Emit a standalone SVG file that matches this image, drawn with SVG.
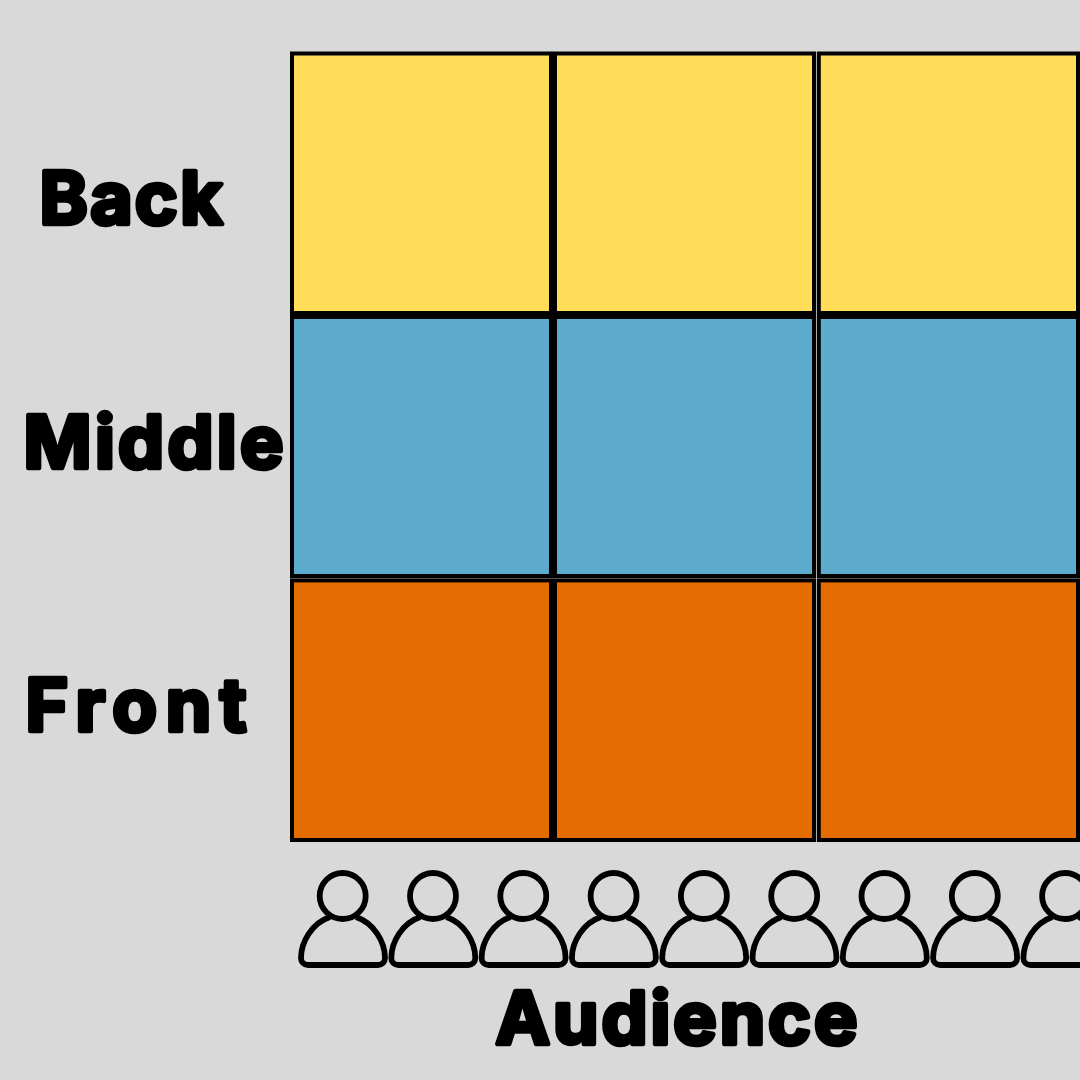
<svg xmlns="http://www.w3.org/2000/svg" width="1080" height="1080" viewBox="0 0 1080 1080">
<style>
.c{stroke:#000;stroke-width:4}
.y{fill:#ffdd59}.b{fill:#5dabcc}.o{fill:#e56c00}
.t{font-family:"Inter","Liberation Sans",sans-serif;font-weight:700;font-size:73px;fill:#000;stroke:#000;stroke-width:4.5;stroke-linejoin:round;stroke-linecap:round}
.p{fill:none;stroke:#000;stroke-width:5.8;stroke-linejoin:round}
</style>
<defs>
<g id="person"><circle cx="342.7" cy="896" r="23"/><path d="M330 917C312 923 301 942 301 958C301 962 304 965 308 965H378C382 965 385 962 385 958C385 942 374 923 356 917"/></g>
</defs>
<rect width="1080" height="1080" fill="#d9d9d9"/>
<g id="seat-back">
<rect class="c y" x="292" y="53.5" width="259" height="259.5"/><rect class="c y" x="555" y="53.5" width="259" height="259.5"/><rect class="c y" x="818.8" y="53.5" width="259.2" height="259.5"/>
</g>
<g id="seat-middle">
<rect class="c b" x="292" y="317" width="259" height="259"/><rect class="c b" x="555" y="317" width="259" height="259"/><rect class="c b" x="818.8" y="317" width="259.2" height="259"/>
</g>
<g id="seat-front">
<rect class="c o" x="292" y="580.4" width="259" height="259.6"/><rect class="c o" x="555" y="580.4" width="259" height="259.6"/><rect class="c o" x="818.8" y="580.4" width="259.2" height="259.6"/>
</g>
<g id="audience" class="p">
<use href="#person"/><use href="#person" x="90.3"/><use href="#person" x="180.6"/><use href="#person" x="270.9"/><use href="#person" x="361.2"/><use href="#person" x="451.5"/><use href="#person" x="541.8"/><use href="#person" x="632.1"/><use href="#person" x="722.4"/>
</g>
<g id="labels">
<text class="t" x="39.5" y="223.5" textLength="183">Back</text>
<text class="t" x="23.5" y="467.5" textLength="260">Middle</text>
<text class="t" x="25.5" y="730.5" textLength="221">Front</text>
<text class="t" x="495.5" y="1043.5" textLength="362">Audience</text>
</g>
</svg>
